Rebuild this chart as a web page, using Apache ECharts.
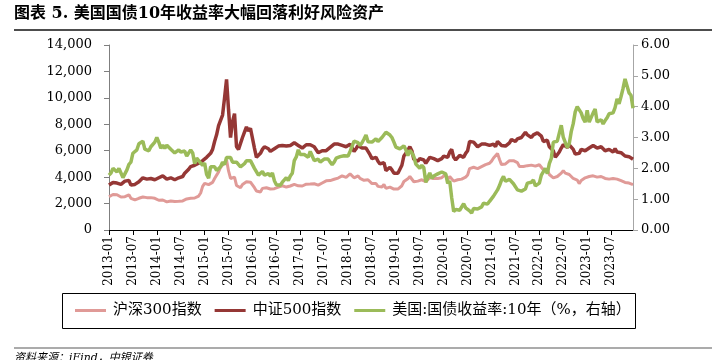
<!DOCTYPE html>
<html><head><meta charset="utf-8">
<script src="https://cdn.jsdelivr.net/npm/echarts@6/dist/echarts.min.js"></script>
<style>html,body{margin:0;padding:0;background:#fff}#c{width:712px;height:360px}</style>
</head><body><div id="c"></div>
<script>
// ---- data (semi-monthly: start of month, mid-month), 2013-01 .. 2023-12 ----
const startYear = 2013, endYear = 2023;
const seriesNames = ['沪深300指数', '中证500指数', '美国:国债收益率:10年（%，右轴）'];
const leftTicks = [0, 2000, 4000, 6000, 8000, 10000, 12000, 14000];
const rightTicks = [0, 1, 2, 3, 4, 5, 6];

const hs300 = [
  2520,2620,2690,2780,2670,2600,2500,2470,2520,2620,2660,2400,2250,2280,2230,2400,2420,2500,2460,2450,2420,2450,2500,2400,
  2330,2250,2200,2270,2180,2130,2150,2200,2160,2150,2160,2170,2165,2200,2300,2350,2340,2400,2450,2420,2510,2570,2800,3300,
  3530,3500,3430,3500,3600,3900,4050,4400,4750,4600,5100,5300,4470,3900,3800,4000,3370,3300,3200,3450,3530,3650,3570,3620,
  3730,3200,2950,3000,2880,3150,3220,3200,3160,3100,3170,3130,3150,3240,3200,3350,3330,3250,3250,3330,3340,3450,3540,3340,
  3310,3330,3390,3470,3450,3480,3460,3500,3440,3400,3490,3560,3670,3720,3740,3740,3820,3840,3840,3930,4006,4100,4006,3980,
  4030,4250,4275,3950,4020,4100,3900,3800,3760,3900,3800,3700,3510,3450,3520,3300,3330,3250,3440,3150,3150,3250,3170,3100,
  3010,3100,3200,3350,3670,3750,3870,4050,3910,3650,3630,3700,3830,3800,3840,3650,3800,3950,3810,3900,3890,3900,3830,3960,
  4100,4200,3800,4050,4000,3700,3690,3800,3910,3850,3870,4000,4160,4650,4700,4750,4840,4650,4590,4800,4700,4950,4980,5050,
  5210,5450,5350,5800,5340,4950,5050,5000,5120,5250,5330,5250,5220,5100,4810,4850,4810,4900,4870,4950,4910,4900,4830,4950,
  4940,4750,4560,4600,4580,4200,4220,3950,4020,4050,4090,4300,4490,4300,4170,4200,4080,3900,3800,3780,3510,3750,3850,3950,
  3870,4050,4160,4100,4090,4000,4050,4050,4030,3900,3800,3850,3840,3900,4000,3850,3760,3730,3690,3600,3570,3550,3500,3430
];
const zz500 = [
  3400,3500,3600,3650,3550,3500,3450,3550,3700,3850,3750,3400,3300,3450,3550,3650,3800,3950,3900,3850,3800,3900,3950,3800,
  3800,3950,4000,4100,4000,3850,3900,3950,3850,3800,3850,3950,4000,4050,4300,4450,4600,4800,4850,4900,4950,5050,5150,5250,
  5330,5500,5550,5800,6100,6700,7200,7900,8000,8700,10000,11400,9100,7000,8200,8800,6300,6100,6200,7000,7400,7800,7500,7700,
  7600,6200,5500,5600,5800,6100,6300,6300,6150,5950,6050,6150,6250,6350,6250,6400,6450,6350,6300,6400,6450,6600,6650,6400,
  6300,6200,6250,6450,6500,6450,6450,6300,6150,5850,5950,6000,6150,6000,6050,6250,6400,6500,6500,6500,6550,6400,6250,6300,
  6350,6500,6550,5950,6150,6400,6300,6200,6100,6200,6050,5700,5400,5450,5500,5200,5000,4900,5100,4500,4500,4750,4550,4300,
  4170,4300,4450,4900,5600,5800,5950,6300,6000,5350,5200,5200,5400,5300,5300,5050,5200,5500,5350,5400,5400,5250,5250,5400,
  5590,5700,5500,5900,6100,5500,5300,5450,5650,5550,5500,5800,6000,6700,6700,6650,6800,6300,6250,6500,6400,6500,6600,6400,
  6370,6500,6300,6700,6600,6400,6300,6350,6500,6600,6850,6800,6700,6900,6900,7000,7000,7400,7200,7050,7000,7200,7300,7350,
  7360,7100,6700,6800,6800,6300,6300,6000,5500,5700,5900,6200,6450,6300,6250,6450,6300,6100,5750,5700,5800,6100,6100,6000,
  5970,6200,6350,6400,6350,6200,6250,6300,6250,6000,6000,6100,6000,5900,6150,5900,5800,5850,5700,5600,5650,5550,5450,5350
];
const us10y = [
  1.78,1.85,2.00,2.00,1.88,2.00,1.85,1.70,1.66,1.95,2.13,2.20,2.49,2.55,2.60,2.80,2.85,2.88,2.62,2.65,2.57,2.70,2.75,2.85,
  3.00,2.85,2.65,2.75,2.65,2.75,2.72,2.62,2.65,2.50,2.48,2.60,2.53,2.50,2.56,2.40,2.35,2.60,2.50,2.15,2.33,2.35,2.17,2.10,
  2.17,1.80,1.68,2.05,2.00,2.05,1.93,1.90,2.05,2.20,2.12,2.35,2.35,2.35,2.20,2.15,2.20,2.20,2.05,2.03,2.15,2.25,2.20,2.25,
  2.27,2.00,1.94,1.78,1.75,1.90,1.78,1.78,1.83,1.75,1.85,1.60,1.47,1.45,1.45,1.55,1.58,1.70,1.60,1.75,1.84,2.25,2.37,2.60,
  2.45,2.40,2.45,2.45,2.36,2.55,2.40,2.25,2.28,2.30,2.20,2.15,2.30,2.35,2.30,2.20,2.12,2.20,2.33,2.35,2.38,2.37,2.41,2.35,
  2.40,2.55,2.72,2.88,2.87,2.83,2.74,2.83,2.95,3.08,2.86,2.92,2.85,2.86,2.96,2.87,2.86,3.00,3.05,3.17,3.15,3.08,3.00,2.85,
  2.69,2.72,2.63,2.66,2.73,2.60,2.41,2.58,2.50,2.38,2.14,2.08,2.00,2.10,2.02,1.55,1.50,1.85,1.68,1.75,1.69,1.82,1.78,1.88,
  1.92,1.82,1.51,1.59,1.05,0.60,0.67,0.64,0.64,0.64,0.85,0.72,0.66,0.62,0.55,0.70,0.70,0.68,0.69,0.75,0.87,0.90,0.84,0.93,
  0.93,1.10,1.09,1.30,1.44,1.62,1.74,1.58,1.63,1.64,1.60,1.50,1.45,1.30,1.24,1.26,1.31,1.33,1.52,1.58,1.55,1.62,1.43,1.44,
  1.52,1.78,1.79,2.00,1.83,2.15,2.32,2.85,2.89,2.88,2.85,3.40,3.01,2.95,2.67,2.80,3.19,3.45,3.83,4.00,4.05,3.80,3.61,3.50,
  3.88,3.50,3.52,3.80,3.92,3.50,3.48,3.58,3.44,3.55,3.64,3.77,3.81,3.80,3.97,4.25,4.09,4.33,4.59,4.90,4.88,4.45,4.37,3.95
];

// categories: "YYYY-MM" for the start of each month, "YYYY-MM-16" mid-month
const categories = [];
for (let y = startYear; y <= endYear; y++) {
  for (let m = 1; m <= 12; m++) {
    const mm = String(m).padStart(2, '0');
    categories.push(y + '-' + mm);
    categories.push(y + '-' + mm + '-16');
  }
}

const SERIF = "'DejaVu Serif','Noto Sans CJK SC',serif";
const chart = echarts.init(document.getElementById('c'), null, {renderer: 'canvas'});
chart.setOption({
  animation: false,
  backgroundColor: '#fff',
  grid: {left: 109, right: 79, top: 45, bottom: 130, containLabel: false},
  xAxis: {
    type: 'category', data: categories, boundaryGap: false,
    axisLine: {lineStyle: {color: '#000', width: 1}},
    axisTick: {interval: 11, length: 5, lineStyle: {color: '#000'}},
    axisLabel: {interval: 11, rotate: 90, margin: 6, fontSize: 12, fontFamily: SERIF, color: '#000'},
    splitLine: {show: false}
  },
  yAxis: [{
    type: 'value', min: leftTicks[0], max: leftTicks[leftTicks.length - 1], interval: 2000, position: 'left',
    axisLine: {show: true, lineStyle: {color: '#7f7f7f'}},
    axisTick: {show: true, length: 5, lineStyle: {color: '#7f7f7f'}},
    axisLabel: {margin: 17, fontSize: 13, fontFamily: SERIF, color: '#000',
      formatter: v => v.toLocaleString('en-US')},
    splitLine: {show: false}
  }, {
    type: 'value', min: rightTicks[0], max: rightTicks[rightTicks.length - 1], interval: 1, position: 'right',
    axisLine: {show: true, lineStyle: {color: '#a6a6a6'}},
    axisTick: {show: true, length: 5, lineStyle: {color: '#a6a6a6'}},
    axisLabel: {margin: 8, fontSize: 13, fontFamily: SERIF, color: '#000',
      formatter: v => v.toFixed(2)},
    splitLine: {show: false}
  }],
  legend: {
    left: 75, top: 303, padding: 0, itemGap: 13, itemWidth: 31, itemHeight: 3, icon: 'rect',
    textStyle: {fontSize: 15, fontFamily: SERIF, color: '#000', padding: [0, 0, 0, 2]},
    data: seriesNames
  },
  series: [
    {name: seriesNames[0], type: 'line', data: hs300, yAxisIndex: 0, symbol: 'none',
     lineStyle: {color: '#e09a97', width: 3}, itemStyle: {color: '#e09a97'}},
    {name: seriesNames[1], type: 'line', data: zz500, yAxisIndex: 0, symbol: 'none',
     lineStyle: {color: '#953735', width: 3.5}, itemStyle: {color: '#953735'}},
    {name: seriesNames[2], type: 'line', data: us10y, yAxisIndex: 1, symbol: 'none',
     lineStyle: {color: '#9bbb59', width: 3.5}, itemStyle: {color: '#9bbb59'}}
  ],
  graphic: [
    {type: 'text', left: 14, top: 6, style: {text: '图表 5. 美国国债10年收益率大幅回落利好风险资产',
      font: "bold 16px 'DejaVu Serif','Noto Sans CJK SC',serif", fill: '#000'}},
    {type: 'rect', shape: {x: 14, y: 29, width: 698, height: 2}, style: {fill: '#4d4d4d'}},
    {type: 'rect', shape: {x: 62.5, y: 293.5, width: 573, height: 35}, style: {fill: 'none', stroke: '#000', lineWidth: 1}},
    {type: 'rect', shape: {x: 14, y: 347.5, width: 698, height: 1}, style: {fill: '#595959'}},
    {type: 'text', left: 14, top: 353, style: {text: '资料来源：iFind，中银证券',
      font: "italic 11px 'DejaVu Serif','Noto Sans CJK SC',serif", fill: '#000'}}
  ]
});
</script>
</body></html>
